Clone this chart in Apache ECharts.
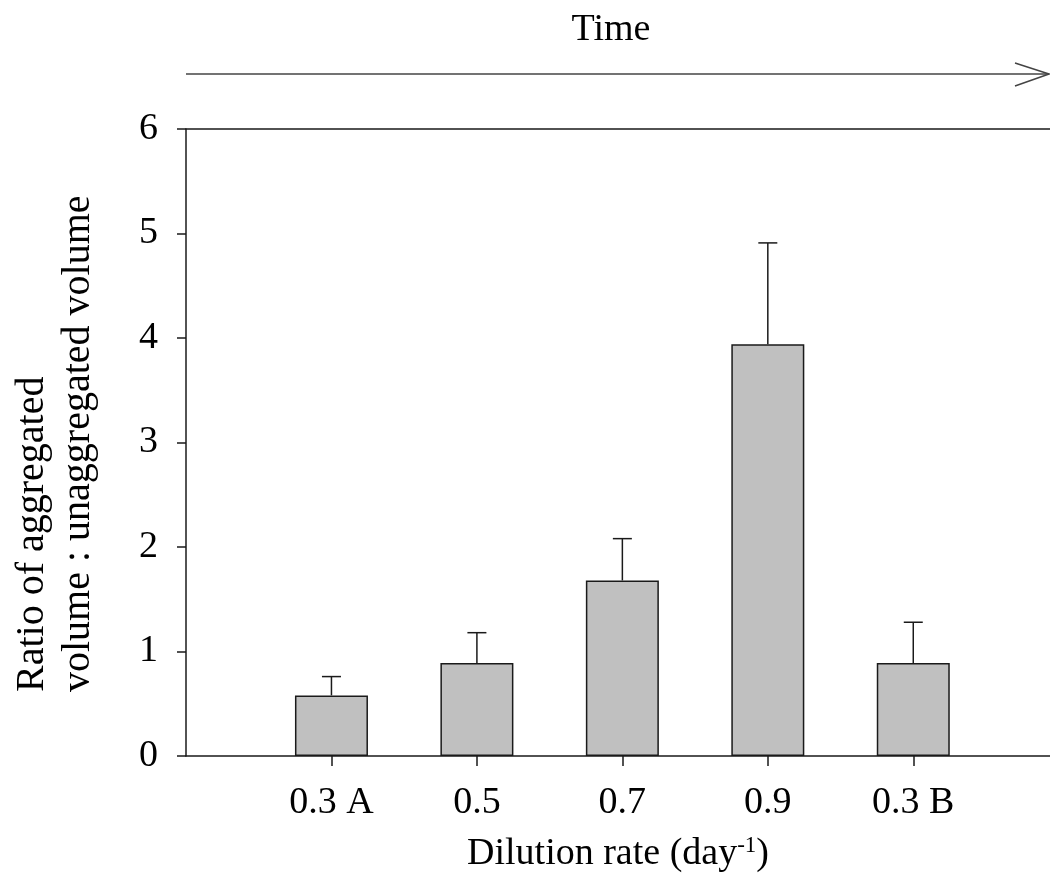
<!DOCTYPE html>
<html>
<head>
<meta charset="utf-8">
<script src="https://cdn.jsdelivr.net/npm/echarts@6/dist/echarts.min.js"></script>
<style>
html,body{margin:0;padding:0;background:#fff;}
#chart{width:1050px;height:896px;}
</style>
</head>
<body>
<div id="chart"></div>
<script>
// ---- data ----
var categories = ['0.3 A', '0.5', '0.7', '0.9', '0.3 B'];
var positions = [1, 2, 3, 4, 5];
var means = [0.58, 0.89, 1.68, 3.94, 0.89];
var errors = [0.18, 0.29, 0.40, 0.97, 0.39];
var yTicks = [0, 1, 2, 3, 4, 5, 6];
var yTitleLines = ['Ratio of aggregated', 'volume : unaggregated volume'];

var FONT = '"Liberation Serif", "Times New Roman", serif';
var FS = 38;
var AX = '#1a1a1a';

var barData = positions.map(function (p, i) { return [p, means[i]]; });
var errData = positions.map(function (p, i) { return [p, means[i], means[i] + errors[i]]; });

var chart = echarts.init(document.getElementById('chart'), null, {renderer: 'canvas'});
chart.setOption({
  animation: false,
  backgroundColor: '#ffffff',
  grid: {left: 186, right: 0, top: 129, bottom: 140, containLabel: false, outerBoundsMode: 'none'},
  xAxis: [{
    type: 'value', min: 0, max: 5.94, interval: 1,
    splitLine: {show: false},
    axisLine: {show: true, onZero: false, lineStyle: {color: AX, width: 1.5}},
    axisTick: {show: true, customValues: positions, length: 10, lineStyle: {color: AX, width: 1.5}},
    axisLabel: {
      customValues: positions, margin: 28, color: '#000', fontFamily: FONT, fontSize: FS,
      formatter: function (v) { var i = positions.indexOf(Math.round(v)); return i >= 0 ? categories[i] : ''; }
    },
    name: 'Dilution rate (day{sup|-1})',
    nameLocation: 'middle', nameGap: 78,
    nameTextStyle: {
      color: '#000', fontFamily: FONT, fontSize: FS,
      rich: {sup: {fontFamily: FONT, fontSize: 23, color: '#000', padding: [0, 0, 17, 0]}}
    }
  }, {
    type: 'value', min: 0, max: 5.94, position: 'top',
    splitLine: {show: false},
    axisLine: {show: true, onZero: false, lineStyle: {color: AX, width: 1.5}},
    axisTick: {show: false}, axisLabel: {show: false}
  }],
  yAxis: {
    type: 'value', min: 0, max: 6, interval: 1,
    splitLine: {show: false},
    axisLine: {show: true, onZero: false, lineStyle: {color: AX, width: 1.5}},
    axisTick: {show: true, inside: false, length: 9, lineStyle: {color: AX, width: 1.5}},
    axisLabel: {
      margin: 28, color: '#000', fontFamily: FONT, fontSize: FS,
      formatter: function (v) { return yTicks.indexOf(v) >= 0 ? String(v) : ''; }
    }
  },
  graphic: [
    {type: 'text', x: 611, y: 30, style: {text: 'Time', font: FS + 'px ' + FONT, fill: '#000', textAlign: 'center', textVerticalAlign: 'middle'}},
    {type: 'line', shape: {x1: 186, y1: 74, x2: 1049, y2: 74}, style: {stroke: '#444', lineWidth: 1.5}},
    {type: 'polyline', shape: {points: [[1015, 63], [1049, 74], [1015, 86]]}, style: {stroke: '#444', lineWidth: 1.5, fill: null}},
    {type: 'text', x: 32, y: 692, rotation: Math.PI / 2, style: {text: yTitleLines[0], font: '40px ' + FONT, fill: '#000', textAlign: 'left', textVerticalAlign: 'middle'}},
    {type: 'text', x: 78, y: 692, rotation: Math.PI / 2, style: {text: yTitleLines[1], font: '40px ' + FONT, fill: '#000', textAlign: 'left', textVerticalAlign: 'middle'}}
  ],
  series: [{
    type: 'bar', xAxisIndex: 0, yAxisIndex: 0,
    data: barData, barWidth: 73,
    itemStyle: {color: '#c0c0c0', borderColor: '#1a1a1a', borderWidth: 1.5},
    z: 2
  }, {
    type: 'custom', xAxisIndex: 0, yAxisIndex: 0,
    data: errData, z: 3,
    renderItem: function (params, api) {
      var x = api.value(0);
      var lo = api.coord([x, api.value(1)]);
      var hi = api.coord([x, api.value(2)]);
      var half = 9.5;
      return {
        type: 'group',
        children: [
          {type: 'line', shape: {x1: lo[0], y1: lo[1], x2: hi[0], y2: hi[1]}, style: {stroke: '#1a1a1a', lineWidth: 1.5}},
          {type: 'line', shape: {x1: hi[0] - half, y1: hi[1], x2: hi[0] + half, y2: hi[1]}, style: {stroke: '#1a1a1a', lineWidth: 1.5}}
        ]
      };
    }
  }]
});
</script>
</body>
</html>
